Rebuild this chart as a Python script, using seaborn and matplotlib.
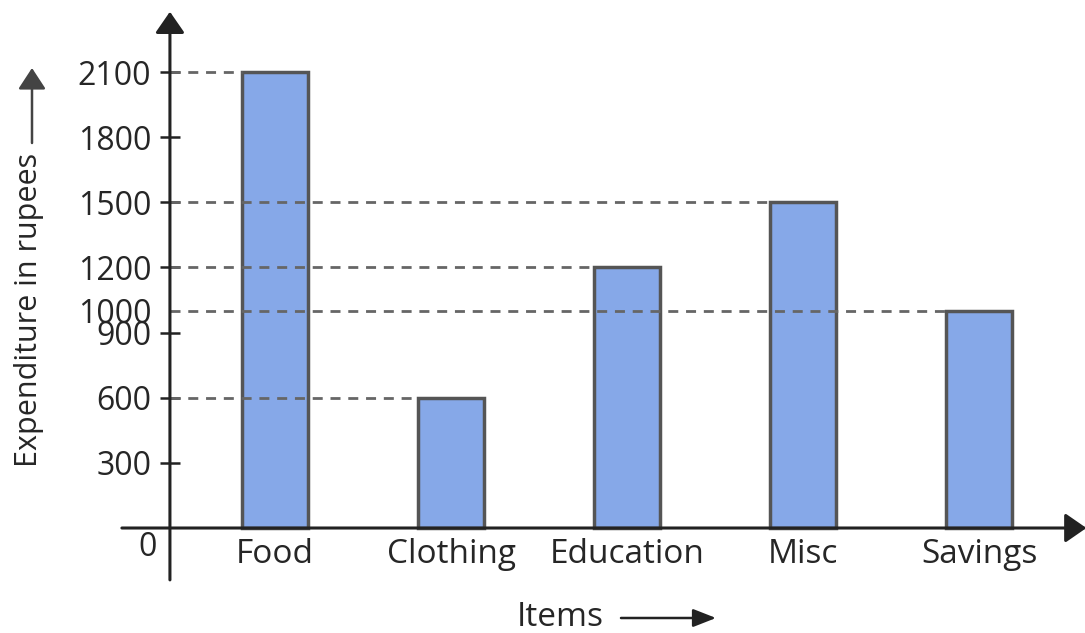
import matplotlib
matplotlib.use('Agg')
import matplotlib.pyplot as plt
import seaborn as sns
import pandas as pd

# data
items = ['Food', 'Clothing', 'Education', 'Misc', 'Savings']
expenditure = [2100, 600, 1200, 1500, 1000]
y_ticks = [300, 600, 900, 1200, 1500, 1800, 2100]
y_extra = [1000]  # labelled but no tick mark

sns.set_style('white')
plt.rcParams['font.family'] = ['Open Sans', 'DejaVu Sans']

BAR_W = 0.37
AXIS_X = -0.597  # where the y axis crosses

fig = plt.figure(figsize=(10.85, 6.33), dpi=100)
ax = fig.add_axes([0, 0, 1, 1])

df = pd.DataFrame({'Item': items, 'Expenditure': expenditure})
sns.barplot(data=df, x='Item', y='Expenditure', color='#86a8e8', saturation=1,
            width=BAR_W, edgecolor='#555555', linewidth=2.5, ax=ax, zorder=2)

ax.set_xlim(-1.5625, 4.602)
ax.set_ylim(-483.6, 2432)
ax.set_xlabel('')
ax.set_ylabel('')

for s in ax.spines.values():
    s.set_visible(False)
ax.spines['left'].set_position(('data', AXIS_X))
ax.spines['bottom'].set_position(('data', 0))

# y ticks
ax.set_yticks(y_ticks, labels=[str(v) for v in y_ticks])
ax.set_yticks(y_extra, labels=[str(v) for v in y_extra], minor=True)
ax.tick_params(axis='y', which='major', left=True, direction='inout', length=15,
               width=1.8, color='#222222', pad=6, labelsize=23)
ax.tick_params(axis='y', which='minor', left=True, length=0, pad=13.5, labelsize=23)
ax.tick_params(axis='x', bottom=True, length=0, pad=7, labelsize=24)

# dashed guide lines from the axis to each bar
for i, v in enumerate(expenditure):
    ax.plot([AXIS_X, i - BAR_W / 2], [v, v], ls=(0, (3.6, 2.8)), lw=2,
            color='#666666', zorder=3)

# axes with arrow heads
arrow = dict(arrowstyle='-|>,head_length=1.3,head_width=0.9', color='#222222',
             lw=2.2, shrinkA=0, shrinkB=0)
ax.annotate('', xy=(AXIS_X, 2378), xytext=(AXIS_X, -239), arrowprops=arrow,
            zorder=4, annotation_clip=False)
ax.annotate('', xy=(4.61, 0), xytext=(-0.87, 0), arrowprops=arrow,
            zorder=4, annotation_clip=False)
ax.text(-0.722, -92, '0', fontsize=23, ha='center', va='center')

# axis titles with arrows
fig.text(29 / 1085, 1 - 310 / 633, 'Expenditure in rupees', rotation=90,
         ha='center', va='center', fontsize=22)
small = dict(arrowstyle='-|>,head_length=1.3,head_width=0.85', color='#444444',
             lw=1.8, shrinkA=0, shrinkB=0)
ax.annotate('', xy=(32, 633 - 68), xytext=(32, 633 - 143), xycoords='figure pixels',
            textcoords='figure pixels', arrowprops=small)
fig.text(560 / 1085, 16 / 633, 'Items', ha='center', va='center', fontsize=24)
small_x = dict(arrowstyle='-|>,head_length=1.4,head_width=0.55', color='#222222',
               lw=1.8, shrinkA=0, shrinkB=0)
ax.annotate('', xy=(716, 15), xytext=(621, 15), xycoords='figure pixels',
            textcoords='figure pixels', arrowprops=small_x)

fig.savefig('out.png', dpi=100)
